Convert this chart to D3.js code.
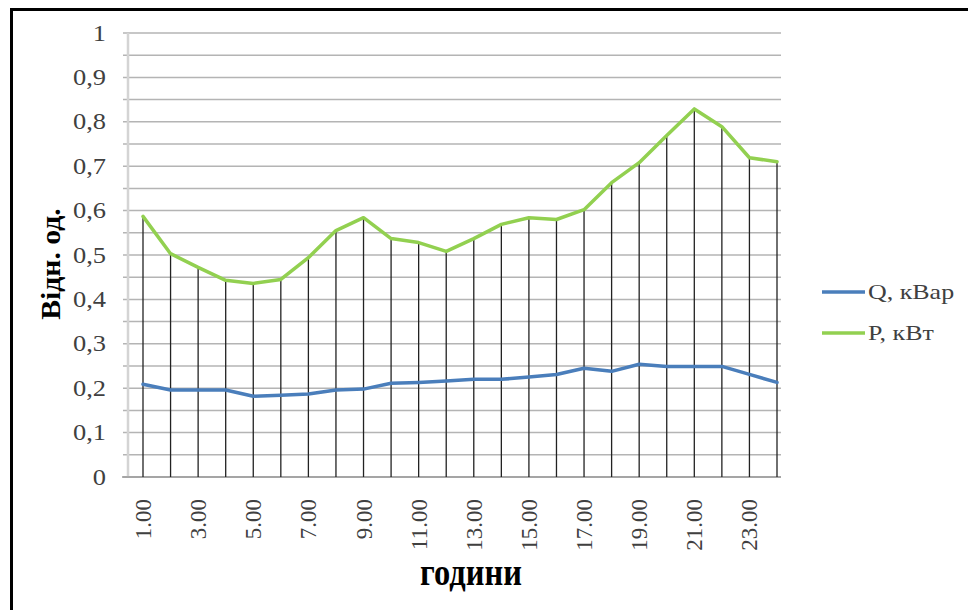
<!DOCTYPE html>
<html>
<head>
<meta charset="utf-8">
<script src="https://cdn.jsdelivr.net/npm/d3@7"></script>
<style>
  html, body { margin: 0; padding: 0; background: #fff; }
  svg { display: block; }
</style>
</head>
<body>
<svg id="chart" width="968" height="610"></svg>
<script>
// ---- data ----
const hours = [1,2,3,4,5,6,7,8,9,10,11,12,13,14,15,16,17,18,19,20,21,22,23,24];
const qValues = [0.209,0.196,0.196,0.196,0.182,0.184,0.187,0.196,0.198,0.211,0.213,0.216,
                 0.220,0.220,0.225,0.231,0.245,0.238,0.254,0.249,0.249,0.249,0.231,0.213];
const pValues = [0.587,0.503,0.472,0.443,0.436,0.445,0.494,0.555,0.584,0.537,0.528,0.508,
                 0.537,0.569,0.584,0.580,0.602,0.663,0.708,0.769,0.829,0.789,0.719,0.710];
const xTickHours = [1,3,5,7,9,11,13,15,17,19,21,23];
const xTickLabels = ["1.00","3.00","5.00","7.00","9.00","11.00","13.00","15.00","17.00","19.00","21.00","23.00"];
const yTickValues = [0,0.1,0.2,0.3,0.4,0.5,0.6,0.7,0.8,0.9,1];
const yTickLabels = ["0","0,1","0,2","0,3","0,4","0,5","0,6","0,7","0,8","0,9","1"];
const seriesNames = ["Q, кВар", "P, кВт"];
const yTitle = "Відн. од.";
const xTitle = "години";

// ---- layout ----
const svg = d3.select("#chart");
const plotLeft = 128, plotRight = 781, plotTop = 33, plotBottom = 477;
const x = d3.scaleLinear().domain([1, 24]).range([143, 777]);
const y = d3.scaleLinear().domain([0, 1]).range([plotBottom, plotTop]);
const serif = "'Liberation Serif', 'Times New Roman', serif";
const colors = ["#4A7EBB", "#92D050"];

// frame (top + left edges)
svg.append("line").attr("x1", 10).attr("x2", 968).attr("y1", 9.5).attr("y2", 9.5)
  .attr("stroke", "#000").attr("stroke-width", 3);
svg.append("line").attr("x1", 11.5).attr("x2", 11.5).attr("y1", 8).attr("y2", 610)
  .attr("stroke", "#000").attr("stroke-width", 3);

// horizontal gridlines every 0.05
const gridVals = d3.range(0, 21).map(i => i * 0.05);
svg.append("g").selectAll("line").data(gridVals).join("line")
  .attr("x1", plotLeft - 5).attr("x2", plotRight)
  .attr("y1", d => y(d)).attr("y2", d => y(d))
  .attr("stroke", "#b4b4b4").attr("stroke-width", 1.5);

// left axis line
svg.append("line").attr("x1", plotLeft).attr("x2", plotLeft)
  .attr("y1", plotTop).attr("y2", plotBottom)
  .attr("stroke", "#d4d4d4").attr("stroke-width", 2.5);

// bottom axis
svg.append("line").attr("x1", plotLeft - 6).attr("x2", plotRight)
  .attr("y1", plotBottom).attr("y2", plotBottom)
  .attr("stroke", "#9a9a9a").attr("stroke-width", 1.5);

// drop lines from P to axis
svg.append("g").selectAll("line").data(hours).join("line")
  .attr("x1", d => x(d)).attr("x2", d => x(d))
  .attr("y1", (d, i) => y(pValues[i])).attr("y2", plotBottom)
  .attr("stroke", "#222").attr("stroke-width", 1.3);

// y tick labels (slightly stretched horizontally like the reference)
svg.append("g").selectAll("text").data(yTickValues).join("text")
  .attr("transform", d => `translate(106,${y(d)}) scale(1.15,1)`)
  .attr("dy", "0.33em")
  .attr("text-anchor", "end")
  .attr("font-family", serif).attr("font-size", 23).attr("fill", "#404040")
  .text((d, i) => yTickLabels[i]);

// x tick labels (rotated)
svg.append("g").selectAll("text").data(xTickHours).join("text")
  .attr("transform", d => `translate(${x(d)},499) rotate(-90)`)
  .attr("dy", "0.35em")
  .attr("text-anchor", "end")
  .attr("font-family", serif).attr("font-size", 23).attr("fill", "#404040")
  .text((d, i) => xTickLabels[i]);

// series lines
const line = d3.line().x((d, i) => x(hours[i])).y(d => y(d));
[qValues, pValues].forEach((vals, k) => {
  svg.append("path").datum(vals)
    .attr("d", line)
    .attr("fill", "none")
    .attr("stroke", colors[k]).attr("stroke-width", 3.5)
    .attr("stroke-linejoin", "round").attr("stroke-linecap", "round");
});

// axis titles
svg.append("text")
  .attr("transform", "translate(60,264) rotate(-90) scale(1.1,1)")
  .attr("text-anchor", "middle")
  .attr("font-family", serif).attr("font-weight", "bold").attr("font-size", 27)
  .attr("fill", "#000").text(yTitle);
svg.append("text")
  .attr("transform", "translate(471,585) scale(1.12,1.3)")
  .attr("text-anchor", "middle")
  .attr("font-family", serif).attr("font-weight", "bold").attr("font-size", 29)
  .attr("fill", "#000").text(xTitle);

// legend
const legend = svg.append("g");
seriesNames.forEach((name, k) => {
  const ly = 292 + k * 41;
  legend.append("line").attr("x1", 822).attr("x2", 865).attr("y1", ly).attr("y2", ly)
    .attr("stroke", colors[k]).attr("stroke-width", 3.5);
  legend.append("text")
    .attr("transform", `translate(868,${ly}) scale(1.18,1)`)
    .attr("dy", "0.33em")
    .attr("font-family", serif).attr("font-size", 22).attr("fill", "#404040")
    .text(name);
});
</script>
</body>
</html>
